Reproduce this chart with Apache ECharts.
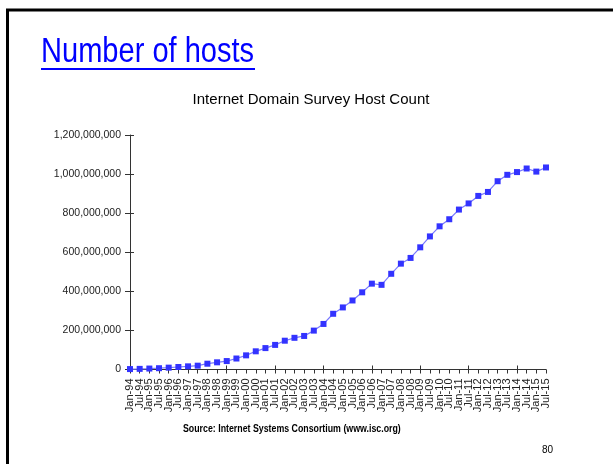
<!DOCTYPE html>
<html>
<head>
<meta charset="utf-8">
<title>Number of hosts</title>
<script src="https://cdn.jsdelivr.net/npm/echarts@6/dist/echarts.min.js"></script>
<style>
  html, body { margin: 0; padding: 0; background: #ffffff; }
  #chart { width: 613px; height: 464px; }
</style>
</head>
<body>
<div id="chart"></div>
<script>
// Survey dates (half-yearly)
const surveyDates = [
  'Jan-94','Jul-94','Jan-95','Jul-95','Jan-96','Jul-96','Jan-97','Jul-97',
  'Jan-98','Jul-98','Jan-99','Jul-99','Jan-00','Jul-00','Jan-01','Jul-01',
  'Jan-02','Jul-02','Jan-03','Jul-03','Jan-04','Jul-04','Jan-05','Jul-05',
  'Jan-06','Jul-06','Jan-07','Jul-07','Jan-08','Jul-08','Jan-09','Jul-09',
  'Jan-10','Jul-10','Jan-11','Jul-11','Jan-12','Jul-12','Jan-13','Jul-13',
  'Jan-14','Jul-14','Jan-15','Jul-15'
];

// Host counts per survey
const hostCounts = [
  2217000, 3212000, 4852000, 6642000, 9472000, 12881000, 16146000, 19540000,
  29670000, 36739000, 43230000, 56218000, 72398000, 93048000, 109574000, 125888000,
  147345000, 162128000, 171638000, 199000000, 233101000, 285139000, 317646000, 353284000,
  394992000, 439286000, 433193000, 489774000, 541677000, 570938000, 625226000, 681065000,
  732740000, 768913000, 818374000, 849870000, 888239000, 908586000, 963519000, 996231000,
  1010252000, 1028544000, 1012706000, 1033836000
];

// Value axis range
const yMin = 0;
const yMax = 1200000000;
const yStep = 200000000;

const withCommas = v => String(v).replace(/\B(?=(\d{3})+(?!\d))/g, ',');

const chart = echarts.init(document.getElementById('chart'), null, { renderer: 'canvas' });

const labelFont = '"Liberation Sans", Arial, sans-serif';

chart.setOption({
  animation: false,
  backgroundColor: '#ffffff',
  title: {
    text: 'Internet Domain Survey Host Count',
    left: 306,
    top: 87,
    textAlign: 'center',
    textStyle: { fontFamily: labelFont, fontSize: 15, fontWeight: 'normal', color: '#000000' }
  },
  grid: { left: 130, right: 67, top: 135, bottom: 94.5, containLabel: false },
  xAxis: [
    {
      type: 'category',
      position: 'bottom',
      data: surveyDates,
      boundaryGap: false,
      axisLine: { lineStyle: { color: '#333333', width: 1 } },
      axisTick: { show: true, inside: false, length: 4, alignWithLabel: true, lineStyle: { color: '#333333' } },
      axisLabel: {
        interval: 0, rotate: 90, margin: 9,
        fontFamily: labelFont, fontSize: 11, color: '#222222'
      },
      splitLine: { show: false }
    },
    {
      type: 'category',
      position: 'bottom',
      data: surveyDates,
      boundaryGap: false,
      axisLine: { show: false },
      axisTick: { show: true, inside: true, length: 4, lineStyle: { color: '#333333' } },
      axisLabel: { show: false },
      splitLine: { show: false }
    }
  ],
  yAxis: [
    {
      type: 'value',
      position: 'left',
      min: yMin, max: yMax, interval: yStep,
      axisLine: { show: true, lineStyle: { color: '#333333', width: 1 } },
      axisTick: { show: true, inside: false, length: 5, lineStyle: { color: '#333333' } },
      axisLabel: {
        margin: 9, fontFamily: labelFont, fontSize: 10.5, color: '#222222',
        formatter: v => withCommas(v)
      },
      splitLine: { show: false }
    },
    {
      type: 'value',
      position: 'left',
      min: yMin, max: yMax, interval: yStep,
      axisLine: { show: false },
      axisTick: { show: true, inside: true, length: 4, lineStyle: { color: '#333333' } },
      axisLabel: { show: false },
      splitLine: { show: false }
    }
  ],
  series: [
    {
      type: 'line',
      xAxisIndex: 0,
      yAxisIndex: 0,
      data: hostCounts,
      symbol: 'rect',
      symbolSize: 6,
      showAllSymbol: true,
      lineStyle: { color: '#7878ff', width: 1.2 },
      itemStyle: { color: '#3333ff' },
      z: 5
    }
  ],
  graphic: [
    // slide frame
    {
      type: 'rect',
      shape: { x: 7.5, y: 10, width: 700, height: 600 },
      style: { fill: null, stroke: '#000000', lineWidth: 3 },
      silent: true
    },
    // slide heading
    {
      type: 'text',
      x: 41,
      y: 35,
      scaleX: 0.83,
      style: {
        text: 'Number of hosts',
        font: '35px "Liberation Sans", Arial, sans-serif',
        fill: '#0000ff'
      }
    },
    {
      type: 'rect',
      shape: { x: 41, y: 68, width: 214, height: 2 },
      style: { fill: '#0000ff' },
      silent: true
    },
    // source note
    {
      type: 'text',
      x: 183,
      y: 424,
      scaleX: 0.88,
      style: {
        text: 'Source: Internet Systems Consortium (www.isc.org)',
        font: 'bold 10px "Liberation Sans", Arial, sans-serif',
        fill: '#000000'
      }
    },
    // page number
    {
      type: 'text',
      left: 542,
      top: 445,
      style: {
        text: '80',
        font: '10px "Liberation Sans", Arial, sans-serif',
        fill: '#000000'
      }
    }
  ]
});
</script>
</body>
</html>
